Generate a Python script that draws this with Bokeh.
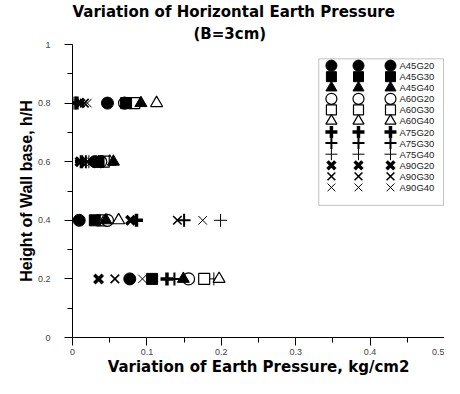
from bokeh.plotting import figure
from bokeh.models import Range1d, FixedTicker, Title, BoxAnnotation, CustomJSTickFormatter
from bokeh.core.properties import value
from bokeh.embed import file_html
from bokeh.resources import INLINE

# ---------------- data ----------------
heights = [0.2, 0.4, 0.6, 0.8]

A45G20 = [0.077, 0.009, 0.030, 0.047]
A45G30 = [0.107, 0.030, 0.035, 0.072]
A45G40 = [0.149, 0.045, 0.055, 0.092]
A60G20 = [0.156, 0.047, 0.038, 0.070]
A60G30 = [0.177, 0.040, 0.042, 0.083]
A60G40 = [0.197, 0.062, 0.050, 0.113]
A75G20 = [0.127, 0.086, 0.012, 0.006]
A75G30 = [0.137, 0.150, 0.018, 0.004]
A75G40 = [0.190, 0.199, 0.022, 0.002]
A90G20 = [0.035, 0.078, 0.010, 0.010]
A90G30 = [0.057, 0.141, 0.020, 0.016]
A90G40 = [0.094, 0.175, 0.025, 0.020]

series_names = ["A45G20", "A45G30", "A45G40", "A60G20", "A60G30", "A60G40",
                "A75G20", "A75G30", "A75G40", "A90G20", "A90G30", "A90G40"]
series_values = [A45G20, A45G30, A45G40, A60G20, A60G30, A60G40,
                 A75G20, A75G30, A75G40, A90G20, A90G30, A90G40]

x_ticks = [0, 0.1, 0.2, 0.3, 0.4, 0.5]
x_minor_ticks = [0.05, 0.15, 0.25, 0.35, 0.45]
y_ticks = [0, 0.2, 0.4, 0.6, 0.8, 1]
y_minor_ticks = [0.1, 0.3, 0.5, 0.7, 0.9]

title_text = "Variation of Horizontal Earth Pressure"
subtitle_text = "(B=3cm)"
x_label = "Variation of Earth Pressure, kg/cm2"
y_label = "Height of Wall base, h/H"

# ---------------- styles ----------------
styles = {
    "A45G20": dict(marker="circle", fill_color="black", line_width=1, size=12),
    "A45G30": dict(marker="square", fill_color="black", line_width=1, size=11),
    "A45G40": dict(marker="triangle", fill_color="black", line_width=1, size=12),
    "A60G20": dict(marker="circle", fill_color="white", line_width=1.2, size=12),
    "A60G30": dict(marker="square", fill_color="white", line_width=1.2, size=11),
    "A60G40": dict(marker="triangle", fill_color="white", line_width=1.2, size=12),
    "A75G20": dict(marker="cross", fill_color="black", line_width=3.5, size=13),
    "A75G30": dict(marker="cross", fill_color="black", line_width=2, size=13),
    "A75G40": dict(marker="cross", fill_color="black", line_width=1, size=13),
    "A90G20": dict(marker="x", fill_color="black", line_width=3.5, size=12),
    "A90G30": dict(marker="x", fill_color="black", line_width=1.6, size=12),
    "A90G40": dict(marker="x", fill_color="black", line_width=1, size=12),
}

p = figure(width=444, height=378, output_backend="svg", toolbar_location=None, title=None,
           x_range=Range1d(0, 0.5), y_range=Range1d(0, 1),
           min_border_left=72, min_border_right=0, min_border_top=39, min_border_bottom=41)
p.outline_line_color = None
p.xgrid.visible = False
p.ygrid.visible = False
p.background_fill_color = "white"
p.border_fill_color = "white"

# draw in reverse order so that the filled symbols are on top
for name, vals in reversed(list(zip(series_names, series_values))):
    st = styles[name]
    p.scatter(vals, heights, marker=st["marker"], size=st["size"],
              fill_color=st["fill_color"], line_color="black", line_width=st["line_width"])

# axes
fmt = CustomJSTickFormatter(code="return tick.toString();")
for ax, t, mt in ((p.xaxis, x_ticks, x_minor_ticks), (p.yaxis, y_ticks, y_minor_ticks)):
    ax.ticker = FixedTicker(ticks=t, minor_ticks=mt)
    ax.formatter = fmt
    ax.axis_line_color = "black"
    ax.axis_line_width = 1
    ax.major_tick_line_color = "black"
    ax.minor_tick_line_color = "black"
    ax.major_tick_in = 0
    ax.major_tick_out = 8
    ax.minor_tick_in = 0
    ax.minor_tick_out = 5
    ax.major_label_text_font = "Liberation Sans"
    ax.major_label_text_font_size = "9px"
    ax.major_label_text_color = "#444444"
    ax.axis_label_text_font_style = "bold"
    ax.axis_label_text_color = "black"
    ax.axis_label_standoff = 0

p.xaxis.major_label_standoff = 3
p.yaxis.major_label_standoff = 14
p.xaxis.axis_label = x_label
p.xaxis.axis_label_text_font = "DejaVu Sans"
p.xaxis.axis_label_text_font_size = "15px"
p.yaxis.axis_label = y_label
p.yaxis.axis_label_text_font = "Liberation Sans"
p.yaxis.axis_label_text_font_size = "16px"

# titles: subtitle first (closest to the frame), then the main title above it
p.add_layout(Title(text=subtitle_text, align="left", offset=121, standoff=4,
                   text_font="DejaVu Sans", text_font_style="bold",
                   text_font_size="15px", text_color="black"), "above")
p.add_layout(Title(text=title_text, align="left", offset=0, standoff=0,
                   text_font="DejaVu Sans", text_font_style="bold",
                   text_font_size="15px", text_color="black"), "above")

# legend (three symbol columns + label), drawn in data space
leg_cols = [0.348, 0.3844, 0.4274]
leg_label_x = 0.4395
leg_top = 0.928
leg_step = 0.0378
p.add_layout(BoxAnnotation(left=0.331, right=0.4987, top=0.951, bottom=0.451,
                           fill_color=None, line_color="#333333", line_width=1))
for i, name in enumerate(series_names):
    st = styles[name]
    yy = leg_top - i * leg_step
    p.scatter(leg_cols, [yy] * 3, marker=st["marker"], size=st["size"] - 1,
              fill_color=st["fill_color"], line_color="black", line_width=st["line_width"])
    p.text([leg_label_x], [yy], text=[name], text_font_size=value("9.5px"),
           text_baseline="middle", text_align="left", text_color="#222222",
           text_font=value("Liberation Sans"))

open("out.html", "w").write(file_html(p, INLINE))
